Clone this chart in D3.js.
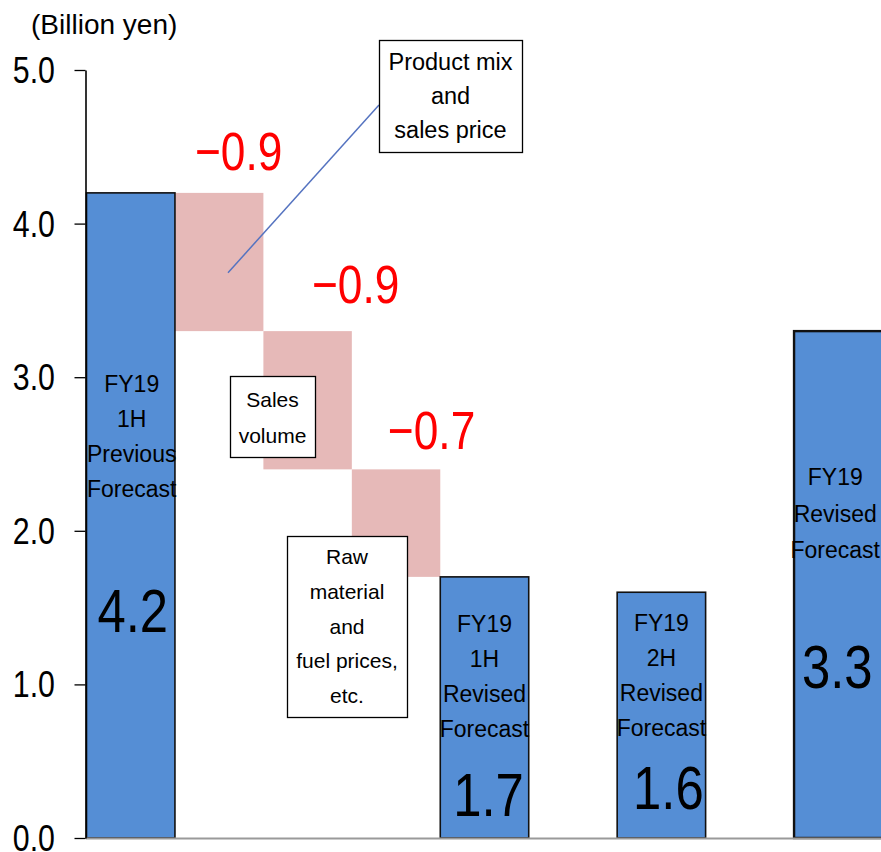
<!DOCTYPE html>
<html>
<head>
<meta charset="utf-8">
<script src="https://cdn.jsdelivr.net/npm/d3@7"></script>
<style>
  body { margin: 0; background: #fff; }
  svg { display: block; font-family: "Liberation Sans", Arial, sans-serif; }
</style>
</head>
<body>
<script>
// slots along the x axis (gaps are empty columns)
var slots = ['prev1H', 'mix', 'volume', 'raw', 'rev1H', 'gap1', 'rev2H', 'gap2', 'revFY'];

var totalSlots = ['prev1H', 'rev1H', 'rev2H', 'revFY'];
var totalValues = [4.2, 1.7, 1.6, 3.3];
var totalLabels = [
  ['FY19', '1H', 'Previous', 'Forecast'],
  ['FY19', '1H', 'Revised', 'Forecast'],
  ['FY19', '2H', 'Revised', 'Forecast'],
  ['FY19', 'Revised', 'Forecast']
];

var deltaSlots = ['mix', 'volume', 'raw'];
var deltaStart = 4.2;
var deltaValues = [-0.9, -0.9, -0.7];
var deltaNames = [
  ['Product mix', 'and', 'sales price'],
  ['Sales', 'volume'],
  ['Raw', 'material', 'and', 'fuel prices,', 'etc.']
];

var yTicks = [0, 1, 2, 3, 4, 5];
var yTitle = '(Billion yen)';

// layout (pixels), kept apart from the data
var totalTextTop = [392, 632, 631, 485];
var totalTextGap = [35, 35, 35, 36.5];
var totalTextDx = [1, 0, 0, -3];
var totalNumY = [632, 816, 809, 688];
var totalNumDx = [2, 4, 7, -1];
var deltaLabelDx = [19.5, 48, 35.5];
var deltaLabelDy = [23, 28, 20];
var boxes = [
  { x: 379, y: 40, w: 143, h: 112, first: 30, gap: 34, size: 23.5 },
  { x: 230, y: 376, w: 85, h: 81, first: 31, gap: 36, size: 21 },
  { x: 287, y: 536, w: 120, h: 181, first: 28, gap: 34.75, size: 21 }
];

var W = 881, H = 852;
var blue = '#558ed5', pink = '#e6b9b8';
var narrow = 0.82;

var svg = d3.select('body').append('svg')
  .attr('width', W)
  .attr('height', H);

var x = d3.scaleBand().domain(slots).range([86.5, 882.5]).padding(0);
var y = d3.scaleLinear().domain([0, 5]).range([838, 70]);
var bw = x.bandwidth();

// waterfall steps
var steps = [], level = deltaStart;
deltaValues.forEach(function (d, i) {
  steps.push({ slot: deltaSlots[i], from: level, to: level + d, value: d, i: i });
  level += d;
});

svg.selectAll('rect.delta').data(steps).enter().append('rect')
  .attr('class', 'delta')
  .attr('x', function (d) { return x(d.slot); })
  .attr('width', bw)
  .attr('y', function (d) { return y(d.from); })
  .attr('height', function (d) { return y(d.to) - y(d.from); })
  .attr('fill', pink);

var totals = totalSlots.map(function (s, i) {
  return { slot: s, value: totalValues[i], lines: totalLabels[i], i: i };
});

svg.selectAll('rect.total').data(totals).enter().append('rect')
  .attr('class', 'total')
  .attr('x', function (d) { return x(d.slot); })
  .attr('width', bw)
  .attr('y', function (d) { return y(d.value); })
  .attr('height', function (d) { return y(0) - y(d.value); })
  .attr('fill', blue)
  .attr('stroke', '#111')
  .attr('stroke-width', function (d) { return d.slot === 'revFY' ? 2.4 : 1.6; });

// baseline
svg.append('line')
  .attr('x1', 86).attr('x2', W)
  .attr('y1', y(0) + 0.5).attr('y2', y(0) + 0.5)
  .attr('stroke', '#9a9a9a')
  .attr('stroke-width', 2);

// y axis
var axis = svg.append('g').attr('transform', 'translate(85.5,0)')
  .call(d3.axisLeft(y).tickValues(yTicks).tickSize(11).tickSizeOuter(0).tickFormat(d3.format('.1f')));
axis.select('.domain').attr('stroke', '#000').attr('stroke-width', 1.6);
axis.selectAll('.tick line').attr('stroke', '#000').attr('stroke-width', 1.3);
axis.selectAll('.tick text').remove();

svg.selectAll('text.ytick').data(yTicks).enter().append('text')
  .attr('class', 'ytick')
  .attr('transform', function (d) { return 'translate(55,' + (y(d) + 13) + ') scale(' + narrow + ',1)'; })
  .attr('text-anchor', 'end')
  .attr('font-size', 37)
  .attr('fill', '#000')
  .text(function (d) { return d3.format('.1f')(d); });

svg.append('text')
  .attr('x', 31).attr('y', 34)
  .attr('font-size', 28)
  .attr('fill', '#000')
  .text(yTitle);

// labels inside the total bars
totals.forEach(function (d) {
  var cx = x(d.slot) + bw / 2;
  svg.append('g').selectAll('text').data(d.lines).enter().append('text')
    .attr('x', cx + totalTextDx[d.i])
    .attr('y', function (t, k) { return totalTextTop[d.i] + k * totalTextGap[d.i]; })
    .attr('text-anchor', 'middle')
    .attr('font-size', 23)
    .attr('fill', '#000')
    .text(function (t) { return t; });
  svg.append('text')
    .attr('transform', 'translate(' + (cx + totalNumDx[d.i]) + ',' + totalNumY[d.i] + ') scale(' + narrow + ',1)')
    .attr('text-anchor', 'middle')
    .attr('font-size', 62)
    .attr('fill', '#000')
    .text(d.value.toFixed(1));
});

// red delta values
svg.selectAll('text.dval').data(steps).enter().append('text')
  .attr('class', 'dval')
  .attr('transform', function (d) {
    return 'translate(' + (x(d.slot) + bw / 2 + deltaLabelDx[d.i]) + ',' + (y(d.from) - deltaLabelDy[d.i]) + ') scale(' + narrow + ',1)';
  })
  .attr('text-anchor', 'middle')
  .attr('font-size', 54)
  .attr('fill', '#ff0000')
  .text(function (d) { return '\u2212' + Math.abs(d.value).toFixed(1); });

// connector from the first callout into its bar
svg.append('line')
  .attr('x1', boxes[0].x).attr('y1', boxes[0].y + 65)
  .attr('x2', x('mix') + bw * 0.6).attr('y2', y(3.68))
  .attr('stroke', '#5573c0')
  .attr('stroke-width', 1.5);

// callout boxes
boxes.forEach(function (b, i) {
  svg.append('rect')
    .attr('x', b.x + 0.5).attr('y', b.y + 0.5)
    .attr('width', b.w).attr('height', b.h)
    .attr('fill', '#fff')
    .attr('stroke', '#000')
    .attr('stroke-width', 1.3);
  svg.append('g').selectAll('text').data(deltaNames[i]).enter().append('text')
    .attr('x', b.x + b.w / 2)
    .attr('y', function (t, k) { return b.y + b.first + k * b.gap; })
    .attr('text-anchor', 'middle')
    .attr('font-size', b.size)
    .attr('fill', '#000')
    .text(function (t) { return t; });
});
</script>
</body>
</html>
